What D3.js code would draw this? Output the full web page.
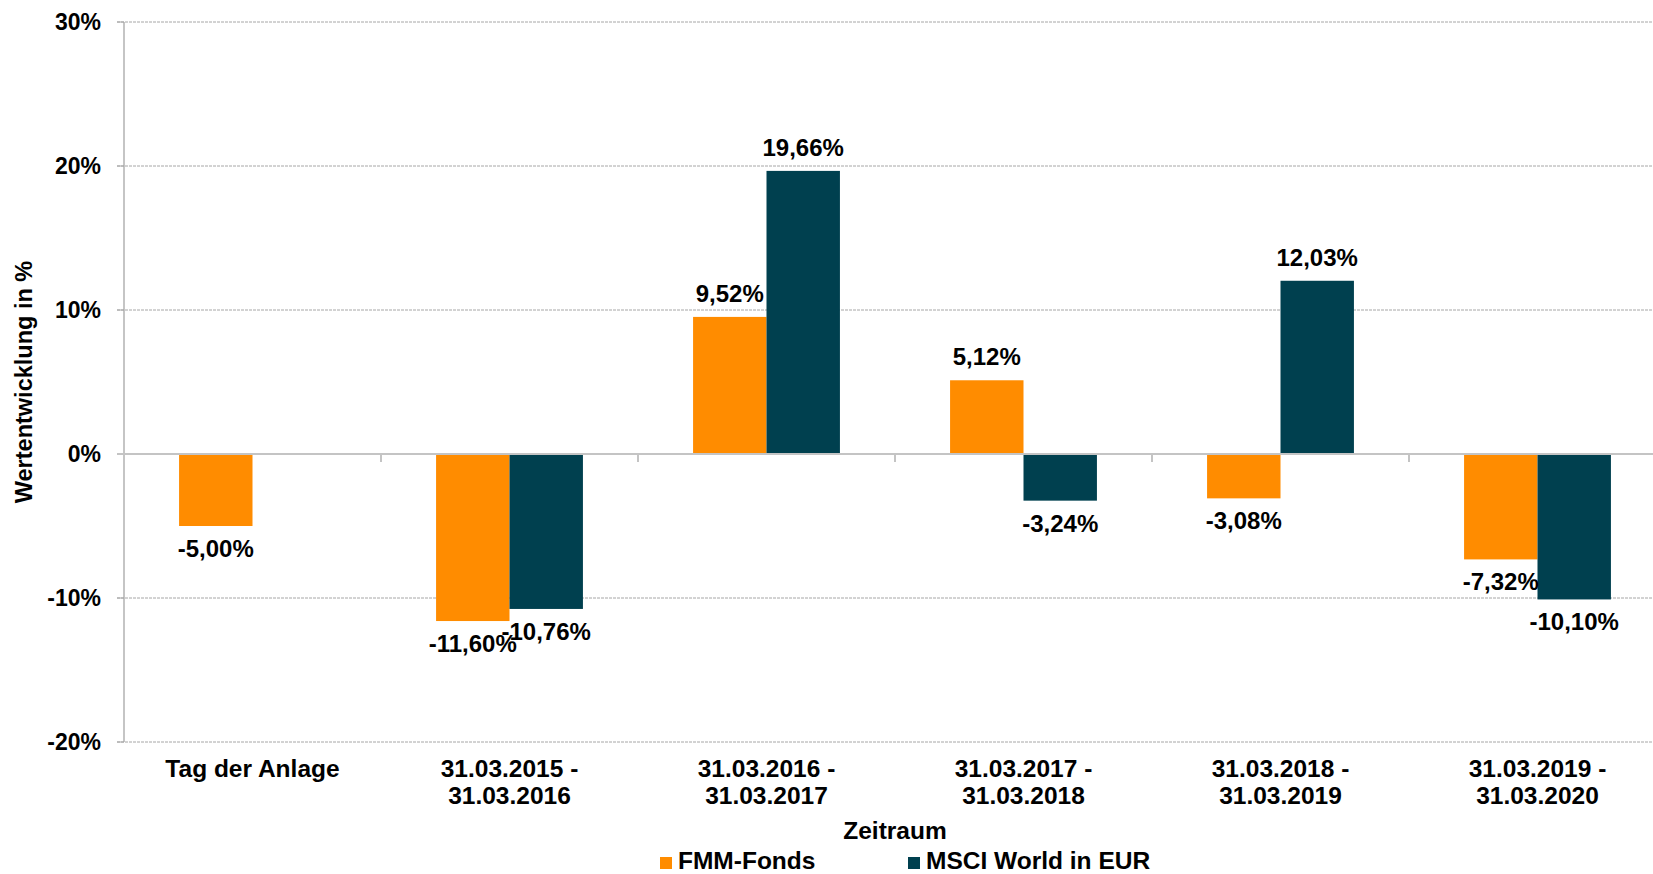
<!DOCTYPE html>
<html>
<head>
<meta charset="utf-8">
<script src="https://cdn.jsdelivr.net/npm/d3@7/dist/d3.min.js"></script>
<style>
  html, body { margin: 0; padding: 0; background: #fff; }
  svg text { font-family: "Liberation Sans", Arial, sans-serif; font-weight: bold; fill: #000; }
</style>
</head>
<body>
<svg id="chart" width="1653" height="874"></svg>
<script>
const categories = [
  ["Tag der Anlage"],
  ["31.03.2015 -", "31.03.2016"],
  ["31.03.2016 -", "31.03.2017"],
  ["31.03.2017 -", "31.03.2018"],
  ["31.03.2018 -", "31.03.2019"],
  ["31.03.2019 -", "31.03.2020"]
];
const seriesNames = ["FMM-Fonds", "MSCI World in EUR"];
const fmmValues  = [-5.00, -11.60, 9.52, 5.12, -3.08, -7.32];
const msciValues = [null, -10.76, 19.66, -3.24, 12.03, -10.10];
const seriesColors = ["#FF8C00", "#00404F"];
const yTicks = [-20, -10, 0, 10, 20, 30];
const yTitle = "Wertentwicklung in %";
const xTitle = "Zeitraum";

const svg = d3.select("#chart");
const mLeft = 124, mRight = 1666, mTop = 22, mBottom = 742;

const catKeys = categories.map((c, i) => i);
const x0 = d3.scaleBand().domain(catKeys).range([mLeft, mRight]).padding(0);
const x1 = d3.scaleBand().domain([0, 1]).range([0, x0.bandwidth()]).paddingInner(0).paddingOuter(0.75);
const y = d3.scaleLinear().domain([-20, 30]).range([mBottom, mTop]);

const fmt = v => (v < 0 ? "-" : "") + Math.abs(v).toFixed(2).replace(".", ",") + "%";

// gridlines
svg.append("g").selectAll("line").data(yTicks.filter(t => t !== 0)).join("line")
  .attr("x1", mLeft - 7).attr("x2", 1653)
  .attr("y1", d => y(d)).attr("y2", d => y(d))
  .attr("stroke", "#a6a6a6").attr("stroke-width", 1).attr("stroke-dasharray", "3,1");

// y axis ticks (left)
svg.append("g").selectAll("line").data(yTicks).join("line")
  .attr("x1", mLeft - 7).attr("x2", mLeft)
  .attr("y1", d => y(d)).attr("y2", d => y(d))
  .attr("stroke", "#a6a6a6").attr("stroke-width", 1);

// y axis line
svg.append("line").attr("x1", mLeft).attr("x2", mLeft).attr("y1", y(30)).attr("y2", y(-20))
  .attr("stroke", "#a6a6a6").attr("stroke-width", 1.3);

// y tick labels
svg.append("g").selectAll("text").data(yTicks).join("text")
  .attr("x", 101).attr("y", d => y(d) + 8)
  .attr("text-anchor", "end").attr("font-size", 23)
  .text(d => d + "%");

// bars
const series = [fmmValues, msciValues];
series.forEach((vals, si) => {
  const data = vals.map((v, i) => ({ i, v })).filter(d => d.v !== null);
  svg.append("g").selectAll("rect").data(data).join("rect")
    .attr("x", d => x0(d.i) + x1(si))
    .attr("width", x1.bandwidth())
    .attr("y", d => y(Math.max(0, d.v)))
    .attr("height", d => Math.abs(y(d.v) - y(0)))
    .attr("fill", seriesColors[si]);
});

// zero line
svg.append("line").attr("x1", mLeft - 7).attr("x2", 1653).attr("y1", y(0)).attr("y2", y(0))
  .attr("stroke", "#c4c4c4").attr("stroke-width", 2);

// category tick marks at zero line
svg.append("g").selectAll("line").data(catKeys.slice(1)).join("line")
  .attr("x1", d => x0(d)).attr("x2", d => x0(d))
  .attr("y1", y(0)).attr("y2", y(0) + 8)
  .attr("stroke", "#c4c4c4").attr("stroke-width", 2);

// value labels
series.forEach((vals, si) => {
  const data = vals.map((v, i) => ({ i, v })).filter(d => d.v !== null);
  svg.append("g").selectAll("text").data(data).join("text")
    .attr("x", d => x0(d.i) + x1(si) + x1.bandwidth() / 2)
    .attr("y", d => d.v >= 0 ? y(d.v) - 15 : y(d.v) + 31)
    .attr("text-anchor", "middle").attr("font-size", 24)
    .text(d => fmt(d.v));
});

// category labels
const catG = svg.append("g");
categories.forEach((lines, i) => {
  const cx = x0(i) + x0.bandwidth() / 2;
  const t = catG.append("text").attr("text-anchor", "middle").attr("font-size", 24.5);
  lines.forEach((ln, j) => {
    t.append("tspan").attr("x", cx).attr("y", 777 + j * 27).text(ln);
  });
});

// axis titles
svg.append("text").attr("x", (mLeft + mRight) / 2).attr("y", 839)
  .attr("text-anchor", "middle").attr("font-size", 24.5).text(xTitle);

svg.append("text")
  .attr("transform", `translate(32, ${(mTop + mBottom) / 2}) rotate(-90)`)
  .attr("text-anchor", "middle").attr("font-size", 23.5).text(yTitle);

// legend
const legendX = [660, 908];
seriesNames.forEach((name, si) => {
  const g = svg.append("g").attr("transform", `translate(${legendX[si]}, 857)`);
  g.append("rect").attr("x", 0).attr("y", 0).attr("width", 12).attr("height", 12).attr("fill", seriesColors[si]);
  g.append("text").attr("x", 18).attr("y", 12).attr("font-size", 24.5).text(name);
});
</script>
</body>
</html>
